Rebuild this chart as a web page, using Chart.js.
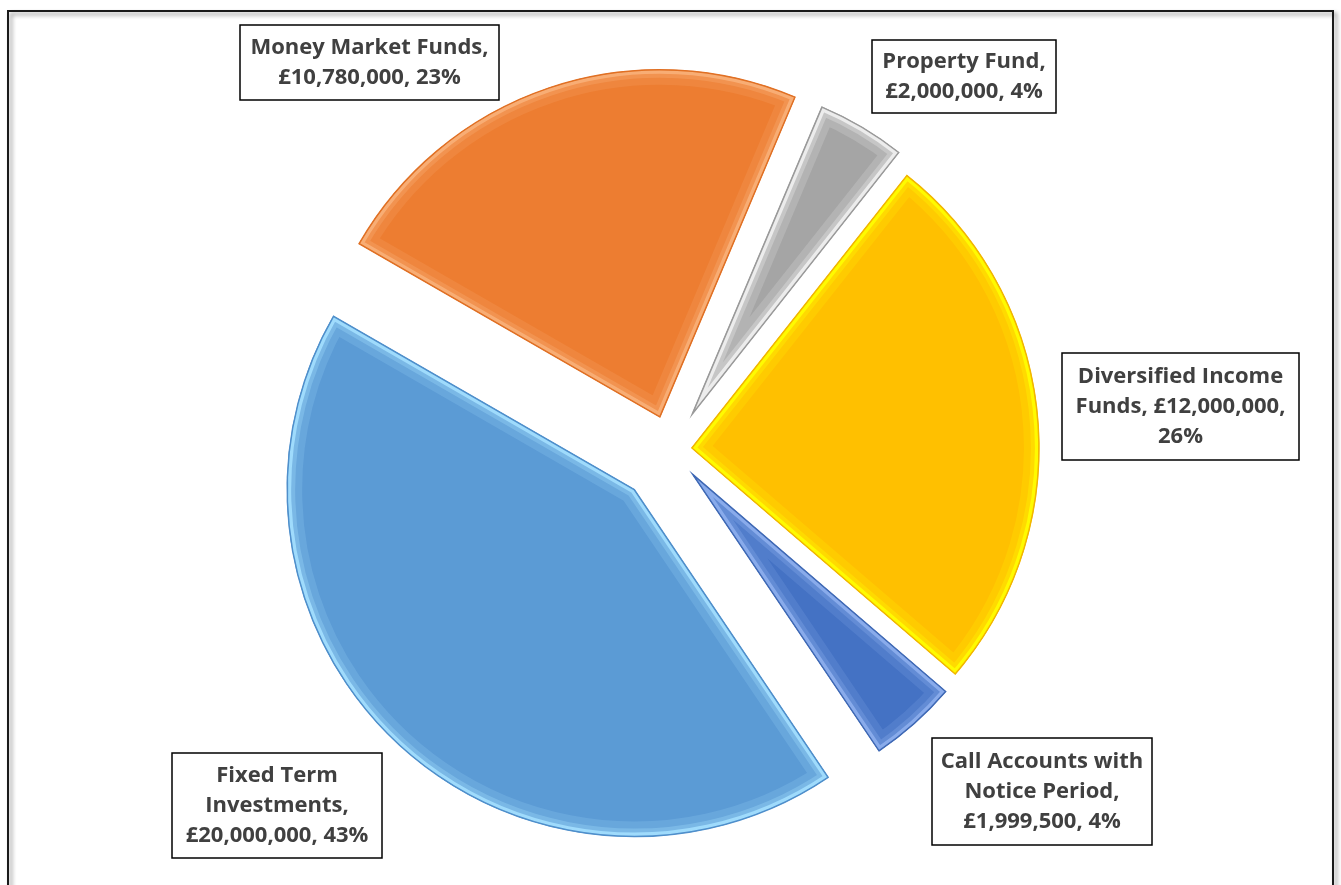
<!DOCTYPE html>
<html>
<head>
<meta charset="utf-8">
<script src="https://cdn.jsdelivr.net/npm/chart.js@4.4.1/dist/chart.umd.min.js"></script>
<style>
  html, body { margin: 0; padding: 0; background: #fff; }
  #chart { display: block; }
</style>
</head>
<body>
<canvas id="chart" width="1341" height="885"></canvas>
<script>
'use strict';

// ── Data ─────────────────────────────────────────────────────
const CATEGORIES = [
  'Property Fund',
  'Diversified Income Funds',
  'Call Accounts with Notice Period',
  'Fixed Term Investments',
  'Money Market Funds',
];
const VALUES = [2000000, 12000000, 1999500, 20000000, 10780000];

// ── Styles ───────────────────────────────────────────────────
const FILL      = ['#A5A5A5', '#FFC000', '#4472C4', '#5B9BD5', '#ED7D31'];
const EDGE      = ['#9A9A9A', '#F2B600', '#3F69B5', '#4F8FCB', '#E07024'];
const HIGHLIGHT = ['#F2F2F2', '#FFFF00', '#8FB0EE', '#A6E0FF', '#F9B27A'];
const EXPLODE   = [42, 21, 33, 54, 35];     // px each slice is pulled out
const TRIM      = [14, 0, 14, 0, 0];        // small slices sit a bit smaller
const RADIUS    = 347;
const ROTATION  = 22.9;

// label boxes: [left, top, width, height]
const LABEL_BOX = [
  [872, 40, 184, 73],
  [1062, 353, 237, 107],
  [932, 738, 220, 107],
  [172, 753, 210, 105],
  [240, 25, 259, 75],
];
const LABEL_FONT   = 'bold 22px "Open Sans", Lato, sans-serif';
const LABEL_COLOR  = '#404040';
const LINE_HEIGHT  = 30;

const TOTAL = VALUES.reduce((a, b) => a + b, 0);

function labelText(i) {
  const pct = Math.round(VALUES[i] / TOTAL * 100);
  return `${CATEGORIES[i]}, £${VALUES[i].toLocaleString('en-GB')}, ${pct}%`;
}

function wrap(ctx, text, maxWidth) {
  const words = text.split(' ');
  const lines = [];
  let cur = '';
  words.forEach(w => {
    const test = cur ? cur + ' ' + w : w;
    if (cur && ctx.measureText(test).width > maxWidth) {
      lines.push(cur);
      cur = w;
    } else {
      cur = test;
    }
  });
  if (cur) lines.push(cur);
  return lines;
}

function slicePath(ctx, arc) {
  ctx.beginPath();
  ctx.moveTo(arc.x, arc.y);
  ctx.arc(arc.x, arc.y, arc.outerRadius, arc.startAngle, arc.endAngle);
  ctx.closePath();
}

// ── Plugins ──────────────────────────────────────────────────
const framePlugin = {
  id: 'frame',
  beforeDraw(chart) {
    const ctx = chart.ctx;
    ctx.save();
    ctx.fillStyle = '#fff';
    ctx.fillRect(0, 0, chart.width, chart.height);
    ctx.shadowColor = 'rgba(0,0,0,0.45)';
    ctx.shadowOffsetX = 3;
    ctx.shadowOffsetY = 3;
    ctx.shadowBlur = 4;
    ctx.strokeStyle = '#1a1a1a';
    ctx.lineWidth = 2;
    ctx.strokeRect(8, 11, 1325, 900);
    ctx.restore();
  },
};

// pulls each slice out along its mid angle, then adds a soft bevel
const explodePlugin = {
  id: 'explode',
  beforeDatasetsDraw(chart) {
    chart.getDatasetMeta(0).data.forEach((arc, i) => {
      const mid = (arc.startAngle + arc.endAngle) / 2;
      arc._home = { x: arc.x, y: arc.y, r: arc.outerRadius };
      arc.x += Math.cos(mid) * EXPLODE[i];
      arc.y += Math.sin(mid) * EXPLODE[i];
      arc.outerRadius -= TRIM[i];
    });
  },
  afterDatasetsDraw(chart) {
    const ctx = chart.ctx;
    chart.getDatasetMeta(0).data.forEach((arc, i) => {
      ctx.save();
      slicePath(ctx, arc);
      ctx.clip();
      ctx.lineJoin = 'miter';
      ctx.strokeStyle = HIGHLIGHT[i];
      ctx.globalAlpha = 0.18;
      ctx.lineWidth = 30;
      slicePath(ctx, arc); ctx.stroke();
      ctx.globalAlpha = 0.3;
      ctx.lineWidth = 16;
      slicePath(ctx, arc); ctx.stroke();
      ctx.globalAlpha = 0.85;
      ctx.lineWidth = 8;
      slicePath(ctx, arc); ctx.stroke();
      ctx.restore();

      ctx.save();
      ctx.lineJoin = 'miter';
      ctx.strokeStyle = EDGE[i];
      ctx.lineWidth = 1.5;
      slicePath(ctx, arc); ctx.stroke();
      ctx.restore();
    });
    chart.getDatasetMeta(0).data.forEach(arc => {
      if (arc._home) {
        arc.x = arc._home.x;
        arc.y = arc._home.y;
        arc.outerRadius = arc._home.r;
      }
    });
  },
};

const labelPlugin = {
  id: 'sliceLabels',
  afterDraw(chart) {
    const ctx = chart.ctx;
    ctx.save();
    ctx.font = LABEL_FONT;
    LABEL_BOX.forEach(([x, y, w, h], i) => {
      ctx.fillStyle = '#fff';
      ctx.fillRect(x, y, w, h);
      ctx.strokeStyle = '#000';
      ctx.lineWidth = 1.5;
      ctx.strokeRect(x, y, w, h);

      const lines = wrap(ctx, labelText(i), w + 8);
      ctx.fillStyle = LABEL_COLOR;
      ctx.textAlign = 'center';
      ctx.textBaseline = 'middle';
      const cx = x + w / 2;
      const top = y + h / 2 - (lines.length - 1) * LINE_HEIGHT / 2;
      lines.forEach((ln, k) => ctx.fillText(ln, cx, top + k * LINE_HEIGHT));
    });
    ctx.restore();
  },
};

// ── Chart ────────────────────────────────────────────────────
new Chart(document.getElementById('chart'), {
  type: 'pie',
  data: {
    labels: CATEGORIES,
    datasets: [{
      data: VALUES,
      backgroundColor: FILL,
      borderColor: EDGE,
      borderWidth: 1,
      borderJoinStyle: 'miter',
    }],
  },
  options: {
    responsive: false,
    animation: false,
    radius: RADIUS,
    rotation: ROTATION,
    layout: { padding: { left: 1, right: 0, top: 15, bottom: 0 } },
    plugins: {
      legend: { display: false },
      tooltip: { enabled: false },
    },
  },
  plugins: [framePlugin, explodePlugin, labelPlugin],
});
</script>
</body>
</html>
